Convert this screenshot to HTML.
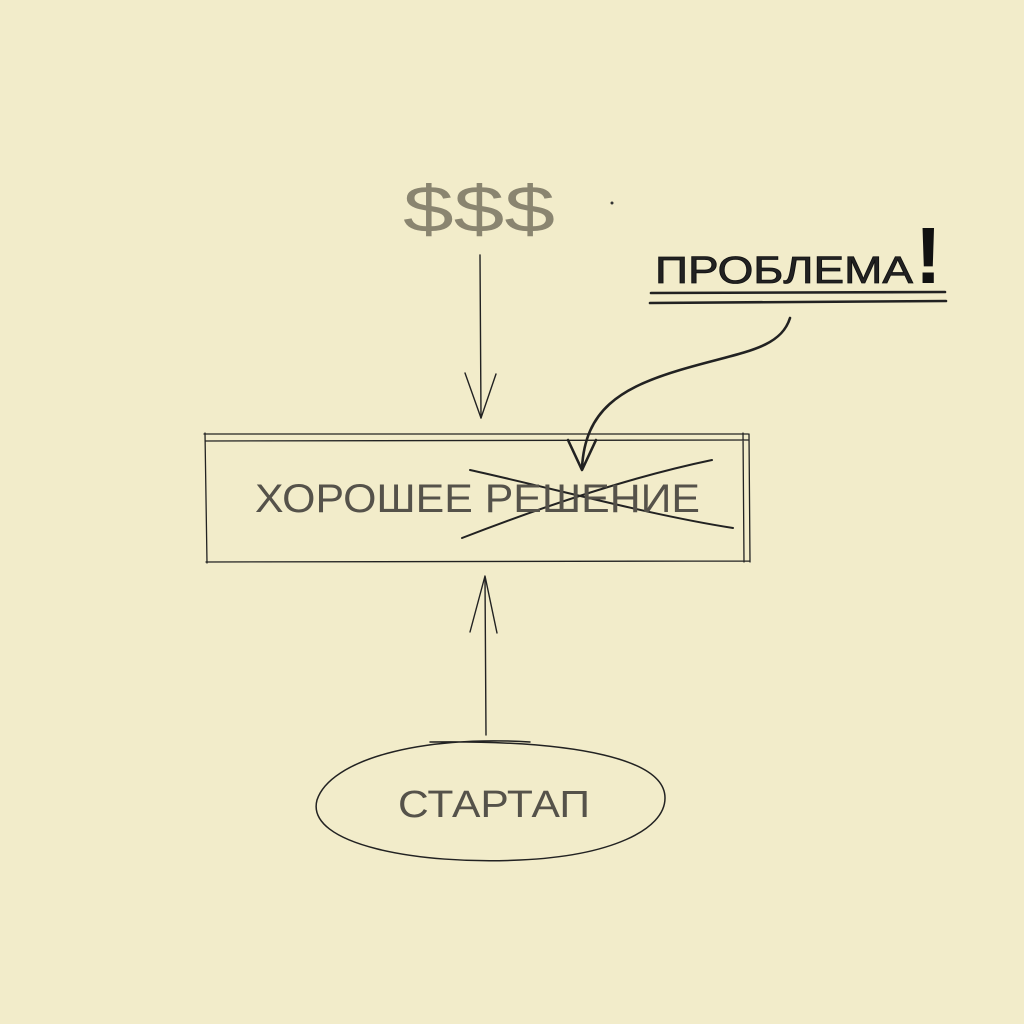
<!DOCTYPE html>
<html><head><meta charset="utf-8">
<style>
html,body{margin:0;padding:0;background:#f2ecca;}
svg{display:block}
text{font-family:"Liberation Sans","DejaVu Sans",sans-serif;}
</style></head>
<body>
<svg width="1024" height="1024" viewBox="0 0 1024 1024" xmlns="http://www.w3.org/2000/svg">
<rect width="1024" height="1024" fill="#f2ecca"/>
<g fill="none" stroke="#222" stroke-linecap="round" stroke-linejoin="round">
  <path d="M480 255 L481 418" stroke-width="1.4"/>
  <path d="M465 373 L481 418 L496 374" stroke-width="1.4"/>
  <path d="M204 434 L748 434 M205 441 L748 440 M205 433 L207 563 M743 433 L744 562 M749 434 L750 562 M206 562 L750 561" stroke-width="1.3"/>
  <path d="M462 538 C560 500 640 475 712 460" stroke-width="2"/>
  <path d="M470 470 C560 490 650 515 733 528" stroke-width="2"/>
  <path d="M651 293 L945 292 M650 303 L946 301" stroke-width="2.6"/>
  <path d="M790 318 C780 350 740 352 680 370 C620 388 585 410 582 468" stroke-width="2.6"/>
  <path d="M568 440 L582 470 L596 440" stroke-width="2.6"/>
  <path d="M486 735 L485 578" stroke-width="1.4"/>
  <path d="M470 632 L485 576 L497 633" stroke-width="1.4"/>
  <path d="M530 742 C420 735 330 760 317 800 C305 845 420 865 520 860 C610 856 665 830 665 798 C665 760 580 740 430 742" stroke-width="1.5"/>
</g>
<circle cx="612" cy="203" r="1.5" fill="#333"/>
<text x="403" y="232" font-size="66" fill="#8a8570" textLength="152" lengthAdjust="spacingAndGlyphs">$$$</text>
<text x="255" y="512" font-size="40" fill="#55524a" textLength="445" lengthAdjust="spacingAndGlyphs">ХОРОШЕЕ РЕШЕНИЕ</text>
<text x="655" y="283" font-size="38" fill="#222" stroke="#111" stroke-width="0.8" textLength="258" lengthAdjust="spacingAndGlyphs">ПРОБЛЕМА</text>
<text x="915" y="283" font-size="80" fill="#111" font-weight="bold">!</text>
<text x="398" y="817" font-size="38" fill="#55524a" textLength="192" lengthAdjust="spacingAndGlyphs">СТАРТАП</text>
</svg>
</body></html>
